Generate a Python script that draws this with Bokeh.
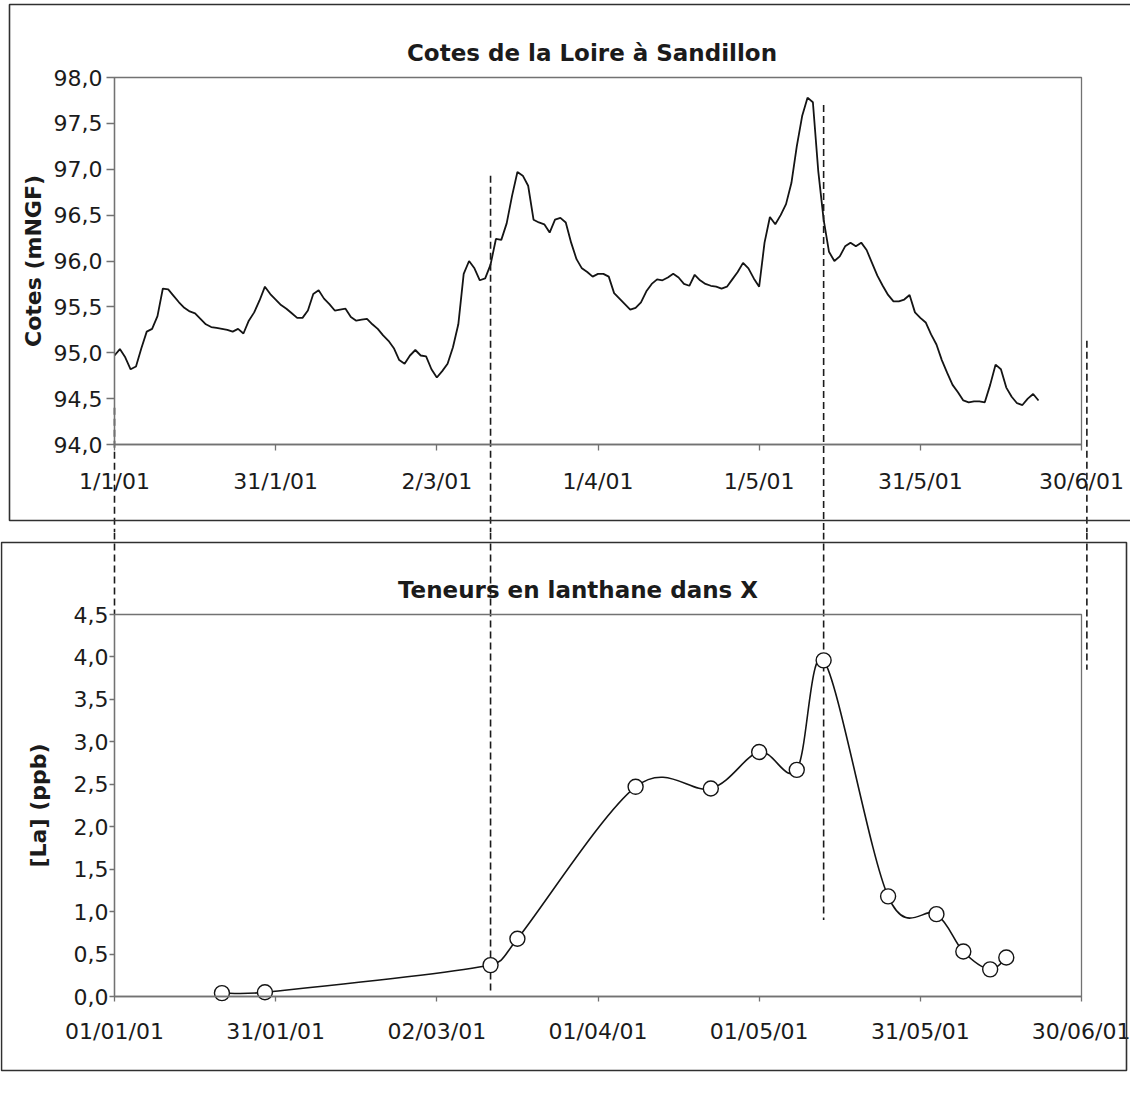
import numpy as np
import pandas as pd
from bokeh.plotting import figure
from bokeh.models import Range1d, LinearAxis, FixedTicker, BoxAnnotation, Label
from bokeh.layouts import column
from bokeh.embed import file_html
from bokeh.resources import INLINE

# ---------------- data ----------------
# Daily water level of the Loire at Sandillon (m NGF), from 1 Jan 2001
cote_start = "2001-01-01"
cote_values = [
    94.97, 95.04, 94.95, 94.82, 94.85, 95.05, 95.23, 95.26, 95.40, 95.70,
    95.69, 95.62, 95.55, 95.49, 95.45, 95.43, 95.37, 95.31, 95.28, 95.27,
    95.26, 95.25, 95.23, 95.26, 95.21, 95.35, 95.44, 95.57, 95.72, 95.64,
    95.58, 95.52, 95.48, 95.43, 95.38, 95.38, 95.46, 95.64, 95.68, 95.59,
    95.53, 95.46, 95.47, 95.48, 95.39, 95.35, 95.36, 95.37, 95.31, 95.26,
    95.19, 95.13, 95.05, 94.92, 94.88, 94.97, 95.03, 94.97, 94.96, 94.82,
    94.73, 94.80, 94.88, 95.06, 95.31, 95.86, 96.00, 95.92, 95.79, 95.81,
    95.96, 96.24, 96.23, 96.41, 96.71, 96.97, 96.93, 96.82, 96.45, 96.42,
    96.40, 96.31, 96.45, 96.47, 96.42, 96.20, 96.02, 95.92, 95.88, 95.83,
    95.86, 95.86, 95.83, 95.65, 95.59, 95.53, 95.47, 95.49, 95.55, 95.67,
    95.75, 95.80, 95.79, 95.82, 95.86, 95.82, 95.75, 95.73, 95.85, 95.79,
    95.75, 95.73, 95.72, 95.70, 95.72, 95.80, 95.88, 95.98, 95.92, 95.81,
    95.72, 96.20, 96.48, 96.40, 96.50, 96.62, 96.85, 97.25, 97.58, 97.78,
    97.73, 96.98, 96.45, 96.10, 96.00, 96.05, 96.16, 96.20, 96.16, 96.20,
    96.12, 95.98, 95.84, 95.73, 95.63, 95.56, 95.56, 95.58, 95.63, 95.44,
    95.38, 95.33, 95.20, 95.09, 94.92, 94.78, 94.65, 94.57, 94.48, 94.46,
    94.47, 94.47, 94.46, 94.65, 94.87, 94.82, 94.62, 94.52, 94.45, 94.43,
    94.50, 94.55, 94.48,
]

# Lanthanum content in X (ppb)
la_dates = ["2001-01-21", "2001-01-29", "2001-03-12", "2001-03-17",
            "2001-04-08", "2001-04-22", "2001-05-01", "2001-05-08",
            "2001-05-13", "2001-05-25", "2001-06-03", "2001-06-08",
            "2001-06-13", "2001-06-16"]
la_values = [0.04, 0.05, 0.37, 0.68, 2.47, 2.45, 2.88, 2.67,
             3.96, 1.18, 0.97, 0.53, 0.32, 0.46]

# axes
tick_dates = ["2001-01-01", "2001-01-31", "2001-03-02", "2001-04-01",
              "2001-05-01", "2001-05-31", "2001-06-30"]
cote_tick_labels = ["1/1/01", "31/1/01", "2/3/01", "1/4/01",
                    "1/5/01", "31/5/01", "30/6/01"]
la_tick_labels = ["01/01/01", "31/01/01", "02/03/01", "01/04/01",
                  "01/05/01", "31/05/01", "30/06/01"]
cote_y_ticks = [94.0, 94.5, 95.0, 95.5, 96.0, 96.5, 97.0, 97.5, 98.0]
la_y_ticks = [0.0, 0.5, 1.0, 1.5, 2.0, 2.5, 3.0, 3.5, 4.0, 4.5]

# hand-drawn dashed guide lines linking both charts
guide_dates = ["2001-01-01", "2001-03-12", "2001-05-13", "2001-07-01"]
guide_from_cote = [94.40, 96.93, 97.70, 95.13]   # where each starts in the top chart
guide_to_la = [4.50, 0.03, 0.90, 3.85]           # where each ends in the bottom chart

# ---------------- helpers ----------------
ORIGIN = pd.Timestamp("2001-01-01")


def to_days(dates):
    return [int((pd.Timestamp(d) - ORIGIN).days) for d in dates]


cote_days = to_days(pd.date_range(cote_start, periods=len(cote_values), freq="D"))
la_days = to_days(la_dates)
tick_days = to_days(tick_dates)
guide_days = to_days(guide_dates)

FONT = "DejaVu Sans"
INK = "#1b1b1b"
FRAME = "#727272"
BOX = "#303030"

# layout (canvas pixels)
W = 1130
X0_PX, X1_PX = 114, 1081          # first / last date tick
TOP_H, TOP_YHI, TOP_YLO = 532, 77, 444
BOT_H, BOT_YHI, BOT_YLO = 540, 82, 464
SX = (X1_PX - X0_PX) / (tick_days[-1] - tick_days[0])


def x_range():
    t0, t1 = tick_days[0], tick_days[-1]
    return Range1d(t0 - X0_PX / SX, t1 + (W - X1_PX) / SX)


def y_range(v0, v1, hi_px, lo_px, h):
    s = (lo_px - hi_px) / (v1 - v0)
    return Range1d(v0 - (h - lo_px) / s, v1 + hi_px / s)


def style_axis(ax, tick_out, standoff, label_standoff):
    ax.axis_line_color = FRAME
    ax.axis_line_width = 1.3
    ax.major_tick_line_color = FRAME
    ax.major_tick_line_width = 1.3
    ax.major_tick_out = tick_out
    ax.major_tick_in = 0
    ax.minor_tick_out = 0
    ax.minor_tick_in = 0
    ax.major_label_text_font = FONT
    ax.major_label_text_font_size = "22px"
    ax.major_label_text_color = INK
    ax.major_label_standoff = standoff
    ax.axis_label_text_font = FONT
    ax.axis_label_text_font_size = "22px"
    ax.axis_label_text_font_style = "bold"
    ax.axis_label_text_color = INK
    ax.axis_label_standoff = label_standoff


def make_fig(h, yr):
    p = figure(width=W, height=h, x_range=x_range(), y_range=yr,
               x_axis_type=None, y_axis_type=None, toolbar_location=None,
               output_backend="svg", min_border=0, outline_line_color=None,
               background_fill_color="white", border_fill_color="white")
    return p


def plot_box(xs, ys):
    return BoxAnnotation(left=xs[0], right=xs[-1], bottom=ys[0], top=ys[-1],
                         fill_color=None, fill_alpha=0,
                         line_color=FRAME, line_alpha=1.0, line_width=1.3)


def outer_box(left, right, top, bottom):
    return BoxAnnotation(left=left, right=right, top=top, bottom=bottom,
                         left_units="canvas", right_units="canvas",
                         top_units="canvas", bottom_units="canvas",
                         fill_color=None, fill_alpha=0,
                         line_color=BOX, line_alpha=1.0, line_width=1.6)


def fmt(v):
    return f"{v:.1f}".replace(".", ",")


# ---------------- top chart ----------------
yr1 = y_range(cote_y_ticks[0], cote_y_ticks[-1], TOP_YHI, TOP_YLO, TOP_H)
p1 = make_fig(TOP_H, yr1)

xa1 = LinearAxis(fixed_location=cote_y_ticks[0],
                 bounds=(tick_days[0], tick_days[-1]),
                 ticker=FixedTicker(ticks=tick_days),
                 major_label_overrides={d: l for d, l in zip(tick_days, cote_tick_labels)})
style_axis(xa1, 6, 18, 5)
p1.add_layout(xa1, "below")

ya1 = LinearAxis(fixed_location=tick_days[0],
                 bounds=(cote_y_ticks[0], cote_y_ticks[-1]),
                 ticker=FixedTicker(ticks=cote_y_ticks),
                 major_label_overrides={v: fmt(v) for v in cote_y_ticks},
                 axis_label="Cotes (mNGF)")
style_axis(ya1, 8, 4, 5)
p1.add_layout(ya1, "left")

p1.add_layout(plot_box(tick_days, cote_y_ticks))

p1.line(cote_days, cote_values, line_color="#141414", line_width=1.8)

p1.segment(x0=guide_days, y0=guide_from_cote,
           x1=guide_days, y1=[yr1.start] * len(guide_days),
           line_color="#1a1a1a", line_width=1.6, line_dash="7 4")

p1.add_layout(outer_box(9, W + 20, 4, 520))

p1.add_layout(Label(x=(tick_days[0] + tick_days[-1]) / 2, y=cote_y_ticks[-1],
                    x_offset=-6, y_offset=25,
                    text="Cotes de la Loire à Sandillon",
                    text_font=FONT, text_font_size="23px", text_font_style="bold",
                    text_color=INK, text_align="center", text_baseline="alphabetic"))

# ---------------- bottom chart ----------------
yr2 = y_range(la_y_ticks[0], la_y_ticks[-1], BOT_YHI, BOT_YLO, BOT_H)
p2 = make_fig(BOT_H, yr2)

xa2 = LinearAxis(fixed_location=la_y_ticks[0],
                 bounds=(tick_days[0], tick_days[-1]),
                 ticker=FixedTicker(ticks=tick_days),
                 major_label_overrides={d: l for d, l in zip(tick_days, la_tick_labels)})
style_axis(xa2, 5, 17, 5)
p2.add_layout(xa2, "below")

ya2 = LinearAxis(fixed_location=tick_days[0],
                 bounds=(la_y_ticks[0], la_y_ticks[-1]),
                 ticker=FixedTicker(ticks=la_y_ticks),
                 major_label_overrides={v: fmt(v) for v in la_y_ticks},
                 axis_label="[La] (ppb)")
style_axis(ya2, 5, 1, 20)
p2.add_layout(ya2, "left")

p2.add_layout(plot_box(tick_days, la_y_ticks))

# smoothed connecting line (spreadsheet-style): cubic Bezier through the
# measured points, Catmull-Rom tangents limited so that each control point
# stays within half of its segment's horizontal extent
P = np.column_stack([la_days, la_values]).astype(float)
Pm = np.vstack([P[:1], P[:-1]])
Pp = np.vstack([P[1:], P[-1:]])
T = (Pp - Pm) / 6.0
seg_dx = P[1:, 0] - P[:-1, 0]


def limited(t, dx):
    lim = 0.5 * dx
    scale = np.where(np.abs(t[:, 0]) > lim, lim / np.abs(t[:, 0]), 1.0)
    return t * scale[:, None]


C0 = P[:-1] + limited(T[:-1], seg_dx)
C1 = P[1:] - limited(T[1:], seg_dx)
p2.bezier(x0=P[:-1, 0], y0=P[:-1, 1], x1=P[1:, 0], y1=P[1:, 1],
          cx0=C0[:, 0], cy0=C0[:, 1], cx1=C1[:, 0], cy1=C1[:, 1],
          line_color="#141414", line_width=1.6)

p2.segment(x0=guide_days, y0=[yr2.end] * len(guide_days),
           x1=guide_days, y1=guide_to_la,
           line_color="#1a1a1a", line_width=1.6, line_dash="7 4")

p2.scatter(la_days, la_values, marker="circle", size=15,
           fill_color="white", line_color="#141414", line_width=1.4)

p2.add_layout(outer_box(1, W - 4, 10, BOT_H - 2))

p2.add_layout(Label(x=(tick_days[0] + tick_days[-1]) / 2, y=la_y_ticks[-1],
                    x_offset=-20, y_offset=25,
                    text="Teneurs en lanthane dans X",
                    text_font=FONT, text_font_size="23px", text_font_style="bold",
                    text_color=INK, text_align="center", text_baseline="alphabetic"))

layout = column(p1, p2)

with open("out.html", "w", encoding="utf-8") as f:
    f.write(file_html(layout, INLINE))
